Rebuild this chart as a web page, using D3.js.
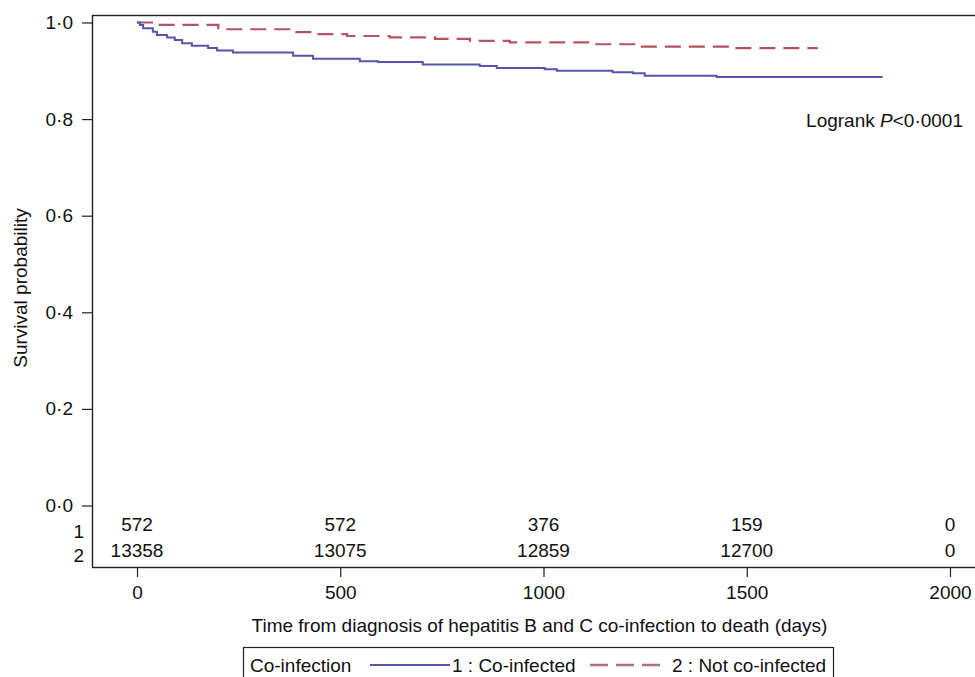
<!DOCTYPE html>
<meta charset="utf-8">
<head>
<script src="https://d3js.org/d3.v7.min.js"></script>
<style>
  body { margin: 0; background: #fff; }
  svg text { font-family: "Liberation Sans", Arial, sans-serif; fill: #111; }
</style>
</head>
<body>
<script>
    // Kaplan-Meier steps
    coDays  = [0, 7, 15, 39, 49, 74, 93, 111, 135, 175, 197, 236, 384, 433, 548, 593, 703, 843, 885, 1003, 1033, 1170, 1220, 1249, 1426, 1834]
    coSurv  = [1.0, 0.995, 0.988, 0.981, 0.974, 0.969, 0.964, 0.957, 0.952, 0.947, 0.942, 0.938, 0.931, 0.925, 0.920, 0.918, 0.913, 0.910, 0.906, 0.903, 0.900, 0.897, 0.895, 0.890, 0.887, 0.887]
    notDays = [0, 50, 200, 377, 440, 517, 622, 733, 819, 917, 1126, 1237, 1470, 1675]
    notSurv = [1.0, 0.995, 0.986, 0.980, 0.976, 0.972, 0.969, 0.966, 0.962, 0.959, 0.955, 0.950, 0.947, 0.947]

    xTicks = [0, 500, 1000, 1500, 2000]
    yTicks = [0, 0.2, 0.4, 0.6, 0.8, 1.0]
    riskCo  = [572, 572, 376, 159, 0]
    riskNot = [13358, 13075, 12859, 12700, 0]

    width = 975
    height = 677
    frame = ({left: 92, top: 15, right: 976, bottom: 567})
    fs = 19

    blue = "#5356ab"
    red = "#b5535f"

    x = d3.scaleLinear().domain([0, 2000]).range([137, 950])
    y = d3.scaleLinear().domain([0, 1]).range([505.5, 22.5])

    var svg = d3.select("body").append("svg")
      .attr("width", width)
      .attr("height", height)
      .attr("viewBox", [0, 0, width, height])

    // frame
    svg.append("rect")
      .attr("x", frame.left + 0.5)
      .attr("y", frame.top + 0.5)
      .attr("width", frame.right - frame.left)
      .attr("height", frame.bottom - frame.top)
      .attr("fill", "none")
      .attr("stroke", "#222")
      .attr("stroke-width", 1.4)

    // y axis
    yAxis = g => g
      .attr("transform", `translate(${frame.left},0)`)
      .call(d3.axisLeft(y).tickValues(yTicks).tickSize(10).tickPadding(9)
        .tickFormat(d => d3.format(".1f")(d).replace(".", "\u00b7")))
      .call(g => g.select(".domain").remove())
      .call(g => g.selectAll("line").attr("stroke", "#222").attr("stroke-width", 1.2))
      .call(g => g.selectAll("text").attr("font-size", fs).attr("font-family", null))

    // x axis
    xAxis = g => g
      .attr("transform", `translate(0,${frame.bottom})`)
      .call(d3.axisBottom(x).tickValues(xTicks).tickSize(10).tickPadding(9).tickFormat(d3.format("d")))
      .call(g => g.select(".domain").remove())
      .call(g => g.selectAll("line").attr("stroke", "#222").attr("stroke-width", 1.2))
      .call(g => g.selectAll("text").attr("font-size", fs).attr("font-family", null))

    svg.append("g").call(yAxis)
    svg.append("g").call(xAxis)

    // survival curves
    line = d3.line()
      .x(d => x(d[0]))
      .y(d => y(d[1]))
      .curve(d3.curveStepAfter)

    svg.append("path")
      .datum(d3.zip(notDays, notSurv))
      .attr("fill", "none")
      .attr("stroke", red)
      .attr("stroke-width", 2.2)
      .attr("stroke-dasharray", "16,8")
      .attr("d", line)

    svg.append("path")
      .datum(d3.zip(coDays, coSurv))
      .attr("fill", "none")
      .attr("stroke", blue)
      .attr("stroke-width", 2)
      .attr("d", line)

    // logrank
    svg.append("text")
      .attr("x", 963)
      .attr("y", 127)
      .attr("text-anchor", "end")
      .attr("font-size", fs)
      .call(t => t.append("tspan").text("Logrank "))
      .call(t => t.append("tspan").attr("font-style", "italic").text("P"))
      .call(t => t.append("tspan").text("<0\u00b70001"))

    // number at risk
    rows = [riskCo, riskNot]
    rows.forEach((r, i) => {
      svg.append("g").selectAll("text")
        .data(r)
        .join("text")
          .attr("x", (d, j) => x(xTicks[j]))
          .attr("y", 524 + i * 26)
          .attr("dy", "0.35em")
          .attr("text-anchor", "middle")
          .attr("font-size", fs)
          .text(d => d)
      svg.append("text")
        .attr("x", 84)
        .attr("y", 531 + i * 24.5)
        .attr("dy", "0.35em")
        .attr("text-anchor", "end")
        .attr("font-size", fs)
        .text(i + 1)
    })

    // axis titles
    svg.append("text")
      .attr("x", (250 + 829) / 2)
      .attr("y", 625)
      .attr("dy", "0.35em")
      .attr("text-anchor", "middle")
      .attr("font-size", fs)
      .text("Time from diagnosis of hepatitis B and C co-infection to death (days)")

    svg.append("text")
      .attr("transform", "translate(20,288) rotate(-90)")
      .attr("dy", "0.35em")
      .attr("text-anchor", "middle")
      .attr("font-size", fs)
      .text("Survival probability")

    // legend
    var legend = svg.append("g")
    legend.append("rect")
      .attr("x", 243.5)
      .attr("y", 647.5)
      .attr("width", 590)
      .attr("height", 40)
      .attr("fill", "none")
      .attr("stroke", "#222")
      .attr("stroke-width", 1.2)
    legend.append("text")
      .attr("x", 250).attr("y", 665).attr("dy", "0.35em")
      .attr("font-size", fs)
      .text("Co-infection")
    legend.append("line")
      .attr("x1", 370).attr("x2", 450).attr("y1", 665).attr("y2", 665)
      .attr("stroke", blue).attr("stroke-width", 2.2)
    legend.append("text")
      .attr("x", 452).attr("y", 665).attr("dy", "0.35em")
      .attr("font-size", fs)
      .text("1 : Co-infected")
    legend.append("line")
      .attr("x1", 590).attr("x2", 666).attr("y1", 665).attr("y2", 665)
      .attr("stroke", "#b0707a").attr("stroke-width", 2.4)
      .attr("stroke-dasharray", "18,8")
    legend.append("text")
      .attr("x", 672).attr("y", 665).attr("dy", "0.35em")
      .attr("font-size", fs)
      .text("2 : Not co-infected")
</script>
</body>
